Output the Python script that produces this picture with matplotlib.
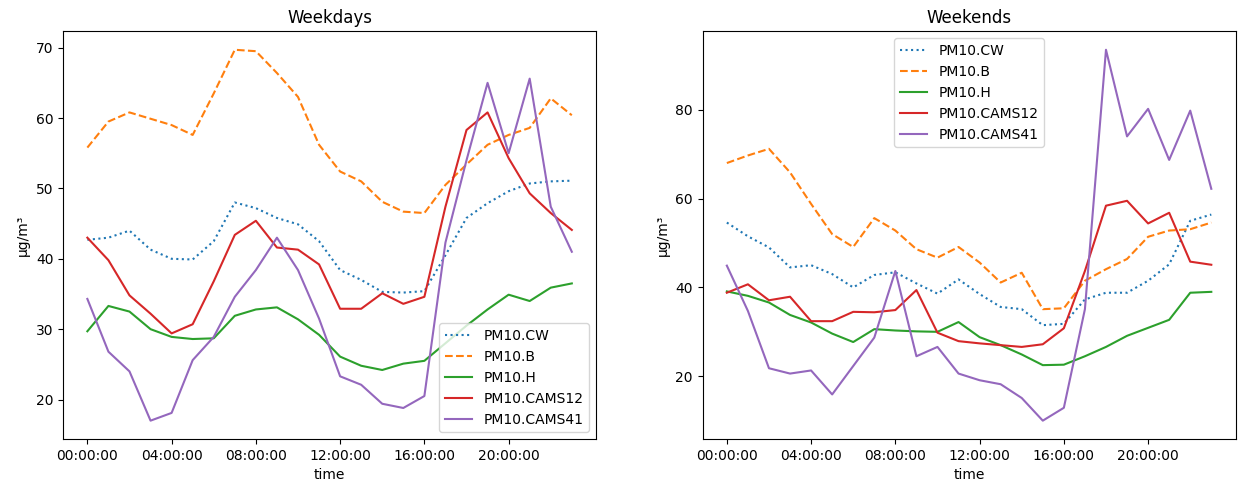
import numpy as np
import matplotlib.pyplot as plt

hours = np.arange(24)
labels = ['PM10.CW', 'PM10.B', 'PM10.H', 'PM10.CAMS12', 'PM10.CAMS41']
styles = [':', '--', '-', '-', '-']

# weekdays
wd_cw = [42.7, 43.0, 44.0, 41.3, 40.0, 39.9, 42.5, 48.0, 47.2, 45.8, 44.9, 42.5,
         38.4, 37.0, 35.3, 35.2, 35.4, 40.5, 45.8, 47.9, 49.6, 50.7, 51.0, 51.1]
wd_b = [55.8, 59.5, 60.8, 59.9, 59.0, 57.6, 63.5, 69.7, 69.5, 66.4, 63.0, 56.2,
        52.4, 51.0, 48.1, 46.7, 46.5, 50.5, 53.4, 56.2, 57.6, 58.6, 62.8, 60.4]
wd_h = [29.7, 33.3, 32.5, 30.0, 28.9, 28.6, 28.7, 31.9, 32.8, 33.1, 31.4, 29.2,
        26.1, 24.8, 24.2, 25.1, 25.5, 28.0, 30.5, 32.8, 34.9, 34.0, 35.9, 36.5]
wd_c12 = [43.0, 39.8, 34.8, 32.2, 29.4, 30.7, 36.8, 43.4, 45.4, 41.6, 41.3, 39.2,
          32.9, 32.9, 35.1, 33.6, 34.6, 47.4, 58.3, 60.8, 54.3, 49.3, 46.5, 44.1]
wd_c41 = [34.3, 26.8, 24.0, 17.0, 18.1, 25.6, 28.9, 34.6, 38.4, 43.0, 38.4, 31.5,
          23.3, 22.1, 19.4, 18.8, 20.5, 42.3, 54.0, 65.0, 55.0, 65.6, 47.4, 41.0]

# weekends
we_cw = [54.6, 51.5, 49.0, 44.5, 45.0, 43.0, 40.0, 42.8, 43.4, 40.9, 38.6, 41.8,
         38.5, 35.6, 35.1, 31.5, 31.8, 37.3, 38.8, 38.8, 41.5, 45.2, 55.0, 56.4]
we_b = [68.0, 69.7, 71.2, 65.9, 58.8, 52.0, 49.1, 55.6, 52.8, 48.6, 46.7, 49.1,
        45.6, 41.1, 43.3, 35.1, 35.3, 41.5, 44.1, 46.4, 51.4, 52.8, 53.1, 54.6]
we_h = [39.1, 38.1, 36.6, 33.8, 32.1, 29.6, 27.7, 30.6, 30.3, 30.1, 30.0, 32.2,
        28.8, 27.0, 24.9, 22.5, 22.6, 24.5, 26.6, 29.1, 30.9, 32.7, 38.8, 39.0]
we_c12 = [38.8, 40.7, 37.1, 37.9, 32.4, 32.4, 34.5, 34.4, 34.9, 39.4, 29.8, 27.9,
          27.4, 27.0, 26.6, 27.2, 30.8, 43.7, 58.4, 59.5, 54.4, 56.8, 45.8, 45.1]
we_c41 = [44.9, 34.7, 21.8, 20.6, 21.3, 15.9, 22.3, 28.7, 43.7, 24.5, 26.6, 20.6,
          19.1, 18.2, 15.1, 10.0, 12.9, 35.1, 93.5, 74.0, 80.2, 68.7, 79.8, 62.2]

tick_hours = [0, 4, 8, 12, 16, 20]
tick_labels = ['%02d:00:00' % h for h in tick_hours]

fig, axes = plt.subplots(1, 2, figsize=(12.38, 4.88), dpi=100)
plt.subplots_adjust(left=0.051, right=0.998, top=0.936, bottom=0.1, wspace=0.2)

for ax, data, title, loc in [(axes[0], [wd_cw, wd_b, wd_h, wd_c12, wd_c41], 'Weekdays', 'lower right'),
                             (axes[1], [we_cw, we_b, we_h, we_c12, we_c41], 'Weekends', 'upper center')]:
    for vals, lab, ls in zip(data, labels, styles):
        ax.plot(hours, vals, ls, label=lab)
    ax.set_xticks(tick_hours)
    ax.set_xticklabels(tick_labels)
    ax.set_xlabel('time')
    ax.set_ylabel('µg/m³')
    ax.set_title(title)
    ax.legend(loc=loc)

fig.savefig('out.png')
